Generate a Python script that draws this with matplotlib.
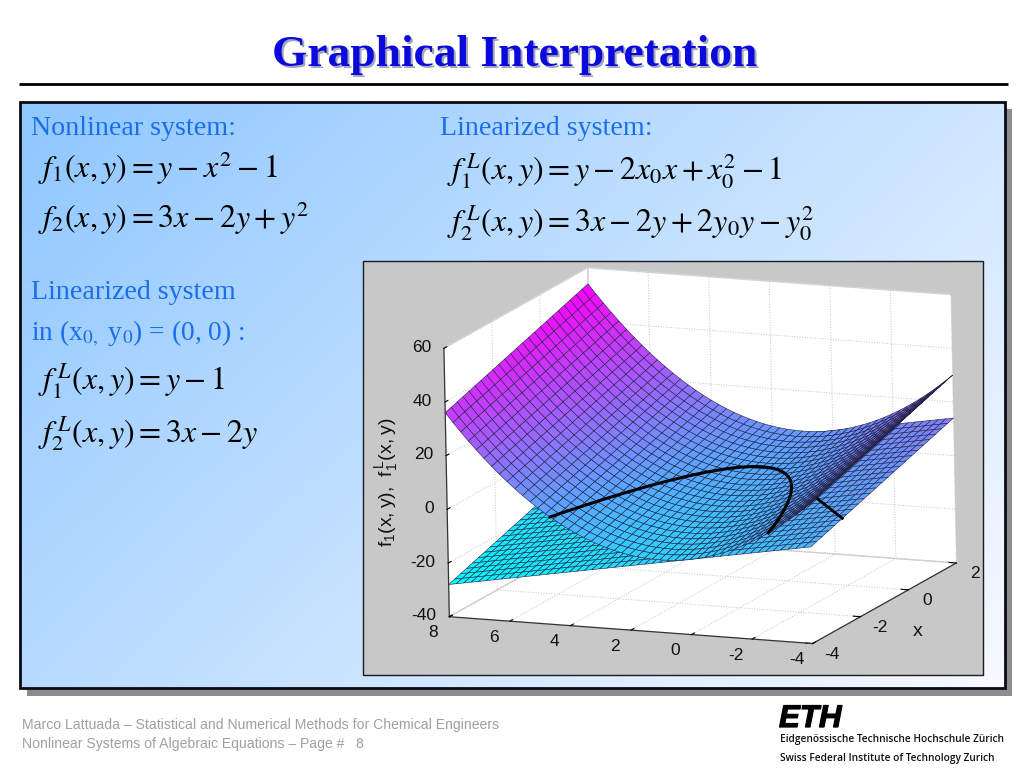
import numpy as np
import matplotlib
matplotlib.use("Agg")
import matplotlib.pyplot as plt
import matplotlib.patheffects as pe
from matplotlib.patches import Rectangle
from matplotlib.ticker import NullFormatter
from mpl_toolkits.mplot3d import proj3d

plt.rcParams['mathtext.fontset'] = 'stix'
plt.rcParams['mathtext.rm'] = 'Liberation Sans'
plt.rcParams['axes.unicode_minus'] = False

# surface grid
x_grid = [-4, -3.75, -3.5, -3.25, -3, -2.75, -2.5, -2.25, -2, -1.75, -1.5, -1.25, -1,
          -0.75, -0.5, -0.25, 0, 0.25, 0.5, 0.75, 1, 1.25, 1.5, 1.75, 2]
y_grid = [-4, -3.75, -3.5, -3.25, -3, -2.75, -2.5, -2.25, -2, -1.75, -1.5, -1.25, -1,
          -0.75, -0.5, -0.25, 0, 0.25, 0.5, 0.75, 1, 1.25, 1.5, 1.75, 2, 2.25, 2.5, 2.75,
          3, 3.25, 3.5, 3.75, 4, 4.25, 4.5, 4.75, 5, 5.25, 5.5, 5.75, 6, 6.25, 6.5, 6.75,
          7, 7.25, 7.5, 7.75, 8]

# height added along x (same for both surfaces)
x_height = [-12, -11.25, -10.5, -9.75, -9, -8.25, -7.5, -6.75, -6, -5.25, -4.5, -3.75, -3,
            -2.25, -1.5, -0.75, 0, 0.75, 1.5, 2.25, 3, 3.75, 4.5, 5.25, 6]
# height added along y, curved surface
curved_height = [24, 21.5625, 19.25, 17.0625, 15, 13.0625, 11.25, 9.5625, 8, 6.5625, 5.25,
                 4.0625, 3, 2.0625, 1.25, 0.5625, 0, -0.4375, -0.75, -0.9375, -1, -0.9375,
                 -0.75, -0.4375, 0, 0.5625, 1.25, 2.0625, 3, 4.0625, 5.25, 6.5625, 8, 9.5625,
                 11.25, 13.0625, 15, 17.0625, 19.25, 21.5625, 24, 26.5625, 29.25, 32.0625,
                 35, 38.0625, 41.25, 44.5625, 48]
# height added along y, flat surface
flat_height = [8, 7.5, 7, 6.5, 6, 5.5, 5, 4.5, 4, 3.5, 3, 2.5, 2, 1.5, 1, 0.5, 0, -0.5, -1,
               -1.5, -2, -2.5, -3, -3.5, -4, -4.5, -5, -5.5, -6, -6.5, -7, -7.5, -8, -8.5,
               -9, -9.5, -10, -10.5, -11, -11.5, -12, -12.5, -13, -13.5, -14, -14.5, -15,
               -15.5, -16]

# zero lines
curve_x = [-3.99, -3.52, -3.08, -2.67, -2.28, -1.92, -1.59, -1.28, -1.0, -0.75, -0.52, -0.32,
           -0.15, 0, 0.12, 0.21, 0.28, 0.32, 0.33, 0.32, 0.28, 0.21, 0.12, 0, -0.15, -0.32,
           -0.52, -0.75, -1.0, -1.28, -1.59, -1.92, -2.28, -2.67, -3.08, -3.52, -3.99]
curve_y = [4.6, 4.4, 4.2, 4.0, 3.8, 3.6, 3.4, 3.2, 3.0, 2.8, 2.6, 2.4, 2.2, 2.0, 1.8, 1.6,
           1.4, 1.2, 1.0, 0.8, 0.6, 0.4, 0.2, 0, -0.2, -0.4, -0.6, -0.8, -1.0, -1.2, -1.4,
           -1.6, -1.8, -2.0, -2.2, -2.4, -2.6]
line_x = [-2.67, 2]
line_y = [-4, 3]

x_ticks = [-4, -2, 0, 2]
y_ticks = [-4, -2, 0, 2, 4, 6, 8]
z_ticks = [-40, -20, 0, 20, 40, 60]

W, H = 1024, 768
BLUE = '#1a6eea'
fig = plt.figure(figsize=(W / 100, H / 100), dpi=100, facecolor='white')

# slide layer in pixel coordinates
bg = fig.add_axes([0, 0, 1, 1], zorder=0)
bg.set_xlim(0, W)
bg.set_ylim(H, 0)
bg.axis('off')

serif = 'Liberation Serif'
bg.text(517, 68, 'Graphical Interpretation', family=serif, weight='bold', size=32.7,
        color='#a4a4bc', ha='center', va='baseline')
bg.text(515, 66, 'Graphical Interpretation', family=serif, weight='bold', size=32.7,
        color='#0a0adc', ha='center', va='baseline')
bg.plot([19, 1008], [84, 84], color='black', lw=2, solid_capstyle='butt')

# panel with shadow and diagonal gradient
bg.add_patch(Rectangle((27, 109), 985, 587, fc='#8c8c8c', ec='none', zorder=1))
u, v = np.meshgrid(np.linspace(0, 1, 200), np.linspace(0, 1, 200))
t = (0.62 * u + 0.38 * v)[..., None]
c0 = np.array([0.56, 0.78, 1.0])
c1 = np.array([0.97, 0.98, 1.0])
bg.imshow(c0 + (c1 - c0) * t, extent=(20, 1005, 688, 102), aspect='auto', zorder=2)
bg.set_xlim(0, W)
bg.set_ylim(H, 0)
bg.add_patch(Rectangle((20, 102), 985, 586, fc='none', ec='#0a0a14', lw=2, zorder=3))

# plot window
bg.add_patch(Rectangle((363, 261), 620, 414, fc='#c8c8c8', ec='#1a1a22', lw=1, zorder=3))


def label(x, y, s, size=20.2):
    bg.text(x, y, s, family=serif, size=size, color=BLUE, va='baseline', zorder=5)


def formula(x, y, s, size=23):
    bg.text(x, y, s, size=size, color='black', va='baseline', zorder=5)


label(31, 135, 'Nonlinear system:')
label(440, 135, 'Linearized system:')
label(31, 299, 'Linearized system')
label(31, 341, r'in (x$_{\mathrm{0,}}$ y$_{\mathrm{0}}$) = (0, 0) :', size=19.8)

formula(38, 178, r'$f_1(x,y)=y-x^2-1$')
formula(38, 228, r'$f_2(x,y)=3x-2y+y^2$')
formula(447, 181, r'$f_1^{\,L}(x,y)=y-2x_0x+x_0^2-1$')
formula(447, 232, r'$f_2^{\,L}(x,y)=3x-2y+2y_0y-y_0^2$')
formula(38, 390, r'$f_1^{\,L}(x,y)=y-1$')
formula(38, 442, r'$f_2^{\,L}(x,y)=3x-2y$')

# footer
grey = '#a0a0a0'
bg.text(22, 729, 'Marco Lattuada \u2013 Statistical and Numerical Methods for Chemical Engineers',
        family='Liberation Sans', size=10.1, color=grey)
bg.text(22, 748, 'Nonlinear Systems of Algebraic Equations \u2013 Page #   8',
        family='Liberation Sans', size=10.1, color=grey)
bg.text(779, 727, 'ETH', family='Liberation Sans', weight='bold', style='italic', size=22.5,
        color='black', path_effects=[pe.withStroke(linewidth=0.9, foreground='black')])
bg.text(780, 742, 'Eidgen\u00f6ssische Technische Hochschule Z\u00fcrich', family='Open Sans',
        weight='semibold', size=7.25, color='#111111')
bg.text(780, 761, 'Swiss Federal Institute of Technology Zurich', family='Open Sans',
        weight='semibold', size=7.25, color='#111111')

# 3d plot
side = 591.9
ax = fig.add_axes([396.2 / W, (H - 759.6) / H, side / W, side / H], projection='3d',
                  proj_type='ortho', zorder=1)
ax.patch.set_visible(False)
ax.computed_zorder = False
ax.set_box_aspect((1.364, 1.428, 1))
ax.view_init(elev=12.95, azim=202.75, roll=1.15)

X, Y = np.meshgrid(x_grid, y_grid)
curved = np.add.outer(curved_height, x_height)
flat = np.add.outer(flat_height, x_height)
style = dict(cmap='cool', vmin=-28, vmax=54, rstride=1, cstride=1, shade=False,
             edgecolor='#20203c', linewidth=0.4)
ax.plot_surface(X, Y, flat, zorder=2, **style)
ax.plot(line_x, line_y, [0, 0], color='black', lw=2, zorder=3)
ax.plot_surface(X, Y, curved, zorder=4, **style)
ax.plot(curve_x, curve_y, np.zeros(len(curve_x)), color='black', lw=2.2, zorder=5)

ax.set_xlim(-4, 2, view_margin=0)
ax.set_ylim(-4, 8, view_margin=0)
ax.set_zlim(-40, 60, view_margin=0)
ax.set_xticks(x_ticks)
ax.set_yticks(y_ticks)
ax.set_zticks(z_ticks)

for axis in (ax.xaxis, ax.yaxis, ax.zaxis):
    axis.set_major_formatter(NullFormatter())
    axis.set_pane_color('white')
    axis.pane.set_edgecolor('#dcdcdc')
    axis.line.set_color('#333333')
    axis.line.set_linewidth(0.9)
    axis._axinfo['grid'].update(color='#c4c4c4', linestyle=':', linewidth=0.7)
    axis._axinfo['tick'].update(inward_factor=0.0, outward_factor=0.25)


# tick labels hang off the box edges; mplot3d's own ones land too far from the original
def tick_label(x, y, z, s, dx, dy, ha='center'):
    px, py, _ = proj3d.proj_transform(x, y, z, ax.get_proj())
    ax.annotate(s, (px, py), xytext=(dx, dy), textcoords='offset pixels', ha=ha, va='center',
                family='Liberation Sans', size=12.5, color='#111111', annotation_clip=False)


for tx in x_ticks:
    tick_label(tx, -4, -40, str(tx), 19, -11)
for ty in y_ticks:
    tick_label(-4, ty, -40, str(ty), -16, -16)
for tz in z_ticks:
    tick_label(-4, 8, tz, str(tz), -13, 1, ha='right')

# axis names
bg.text(387, 482, r'$\mathrm{f_1(x,y),\ f_1^{\,L}(x,y)}$', size=14, rotation=90,
        math_fontfamily='custom', color='#111111', ha='center', va='center', zorder=5)
bg.text(918, 636, 'x', family='Liberation Sans', size=14, color='#111111', ha='center', zorder=5)

fig.savefig('out.png', dpi=100)
